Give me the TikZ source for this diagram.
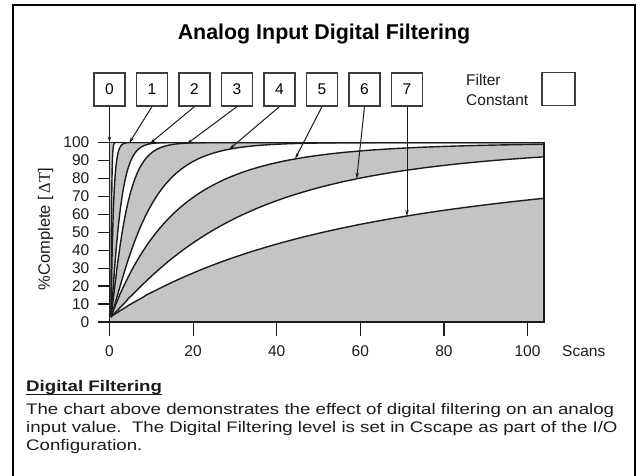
\documentclass[tikz,border=0pt]{standalone}
\usepackage{fontspec}
\setmainfont{Liberation Sans}
\newfontfamily\widefont[FakeStretch=1.22]{Liberation Sans}
\newfontfamily\symfont{Liberation Serif}
\usetikzlibrary{arrows.meta}
\definecolor{bandgray}{RGB}{196,196,196}
\definecolor{ink}{RGB}{28,28,28}
\definecolor{boxline}{RGB}{60,60,60}
\tikzset{
  numbox/.style={draw=boxline, line width=1.2pt, minimum width=31pt, minimum height=33pt, inner sep=0pt, font=\fontsize{15.5}{18}\selectfont},
  pointer/.style={draw=ink, line width=1pt, -{Stealth[length=6pt,width=3.4pt]}},
  curveline/.style={draw=ink, line width=1.4pt},
  axisline/.style={draw=ink, line width=1.2pt},
  lab/.style={font=\fontsize{15.5}{18}\selectfont, inner sep=0pt, text=ink},
  bodytext/.style={font=\widefont\fontsize{15.3}{18.4}\selectfont, inner sep=0pt, anchor=base west, text=ink},
}
\pgfmathdeclarefunction{cx}{1}{\pgfmathparse{111+433*#1*#1*#1}}
% response curve: #1 = sample parameter, #2 = time constant, #3 = shape exponent
\pgfmathdeclarefunction{cy}{3}{\pgfmathparse{322-1.796*(3+97*(1-exp(-min(exp(#3*ln(max(104*#1*#1*#1/(#2*(1+0.4522*#1*#1*#1)),0.00001))),15))))}}
\begin{document}
\begin{tikzpicture}[x=1pt,y=-1pt]
\useasboundingbox (0,0) rectangle (637,476);
\fill[white] (0,0) rectangle (637,476);
\draw[line width=2pt] (13,480) -- (13,5) -- (635,5) -- (635,480);
% title
\node[font=\bfseries\fontsize{21.4}{24}\selectfont, inner sep=0pt, anchor=base] (title) at (324,39.5) {Analog Input Digital Filtering};
% plot bands
\begin{scope}[samples=240]
  \clip (109.5,142.5) rectangle (544,322);
  \fill[bandgray] (109.5,142.5) rectangle (544,322);
  \fill[white] plot[domain=0:1] ({cx(\x)},{cy(\x,0.15,1)}) -- plot[domain=1:0] ({cx(\x)},{cy(\x,0.6,1)}) -- cycle;
  \fill[white] plot[domain=0:1] ({cx(\x)},{cy(\x,2.3,1.15)}) -- plot[domain=1:0] ({cx(\x)},{cy(\x,3.8,1.15)}) -- cycle;
  \fill[white] plot[domain=0:1] ({cx(\x)},{cy(\x,9.1,1.15)}) -- plot[domain=1:0] ({cx(\x)},{cy(\x,15.75,1)}) -- cycle;
  \fill[white] plot[domain=0:1] ({cx(\x)},{cy(\x,31.25,1.1)}) -- plot[domain=1:0] ({cx(\x)},{cy(\x,63,1)}) -- cycle;
  \foreach \tau/\shp in {0.15/1,0.6/1,2.3/1.15,3.8/1.15,9.1/1.15,15.75/1,31.25/1.1,63/1}
    \draw[curveline] plot[domain=0:1] ({cx(\x)},{cy(\x,\tau,\shp)});
\end{scope}
% frame of plot and axes
\draw[axisline] (97.7,142.5) -- (544,142.5) -- (544,322) -- (109.5,322);
\draw[axisline] (109.5,142.5) -- (109.5,336);
\foreach \k in {0,...,9} \draw[axisline] (97.7,{322-17.96*\k}) -- (109.5,{322-17.96*\k});
\foreach \k in {1,...,5} \draw[axisline] ({109.5+83.6*\k},322) -- ({109.5+83.6*\k},336);
\foreach \k in {0,...,10}{
  \pgfmathtruncatemacro\lbl{10*\k}
  \node[lab, anchor=east] (yl\k) at (89.5,{322-17.96*\k}) {\lbl};
}
\foreach \k in {0,...,5}{
  \pgfmathtruncatemacro\lbl{20*\k}
  \node[lab] (xl\k) at ({109.5+83.6*\k},351.5) {\lbl};
}
\node[lab, anchor=west] (scans) at (562,351.5) {Scans};
\node[lab, rotate=90, font=\fontsize{16.5}{18}\selectfont] (ytitle) at (45.5,229) {\%Complete [\,{\symfont ΔT}]};
% boxes
\foreach \k in {0,...,7} \node[numbox] (b\k) at ({109.5+42.5*\k},89.5) {\k};
\node[numbox, minimum width=33pt, minimum height=33.4pt] (fc) at (558.5,89) {};
\node[lab, anchor=base west] (filt) at (466,86) {Filter};
\node[lab, anchor=base west] (const) at (466,105.5) {Constant};
% arrow tips
\coordinate (t0) at (109.5,142.5);
\coordinate (t1) at (129.2,143);
\coordinate (t2) at (150,143.5);
\coordinate (t3) at (186.7,144);
\coordinate (t4) at (229.3,149.2);
\coordinate (t5) at (295.1,158.9);
\coordinate (t6) at (356.7,178.8);
\coordinate (t7) at (407,216);
\foreach \k in {0,...,7} \draw[pointer] (b\k.south) -- (t\k);
% bottom text
\node[bodytext, font=\widefont\bfseries\fontsize{15.3}{18.4}\selectfont] (sub) at (26,391.7) {Digital Filtering};
\draw[ink, line width=1.2pt] ([yshift=-2.6pt]sub.base west) -- ([yshift=-2.6pt]sub.base east);
\node[bodytext] (l1) at (26,414) {The chart above demonstrates the effect of digital filtering on an analog};
\node[bodytext] (l2) at (26,432.4) {input value.\ \ The Digital Filtering level is set in Cscape as part of the I/O};
\node[bodytext] (l3) at (26,450.8) {Configuration.};
\end{tikzpicture}
\end{document}
